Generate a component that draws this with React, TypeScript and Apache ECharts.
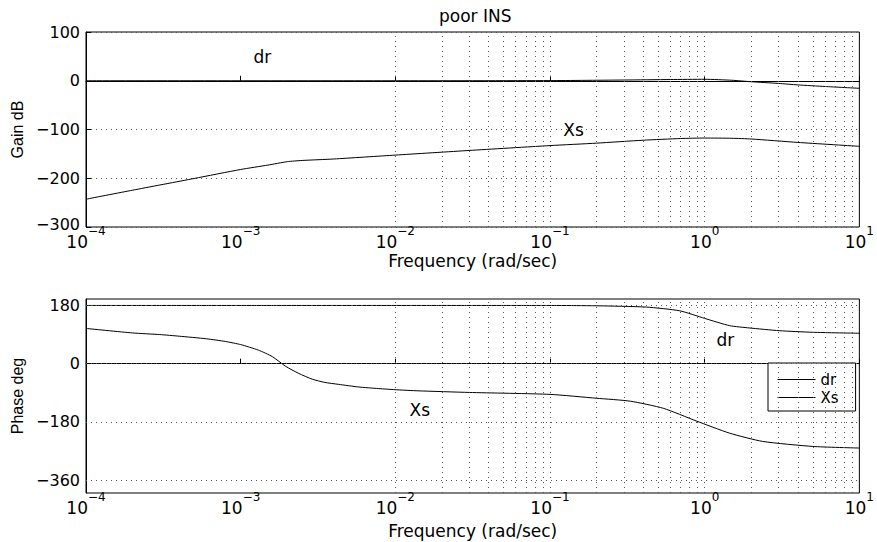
import React, { useEffect, useRef } from 'react';
import * as echarts from 'echarts';

// ---- data ----
const gainXsFreq = [1e-4, 2e-4, 5e-4, 1e-3, 1.5e-3, 2e-3, 2.5e-3, 4e-3, 1e-2, 3e-2, 1e-1, 0.2, 0.4, 0.7, 1, 1.5, 2, 4, 10];
const gainXs = [-243, -224.5, -200.5, -182, -173, -166, -163.5, -160.5, -152.5, -143, -133, -128, -122, -118.5, -117.5, -118, -119.5, -126.5, -134.5];

const gainDrFreq = [1e-4, 1e-2, 1e-1, 0.3, 0.6, 1, 1.5, 2, 3, 4, 6, 10];
const gainDr = [0, 0, 0.3, 1.5, 2.5, 3, 1, -2, -5.5, -8.5, -11.8, -15.5];

const phaseXsFreq = [1e-4, 2e-4, 3e-4, 4e-4, 6e-4, 8e-4, 1e-3, 1.3e-3, 1.6e-3, 1.95e-3, 2.37e-3, 2.9e-3, 3.5e-3, 4.3e-3, 5.75e-3, 7.75e-3, 1.04e-2, 1.4e-2, 3e-2, 1e-1, 0.2, 0.33, 0.54, 0.88, 1.45, 2.37, 5, 10];
const phaseXs = [109, 95, 90, 85, 77, 68.5, 59, 42, 22, -8, -30, -48, -58, -64, -72, -77, -81, -84, -89, -95, -107, -116, -138, -177, -215, -240.5, -256, -261];

const phaseDrFreq = [1e-4, 1e-1, 0.2, 0.42, 0.69, 1.0, 1.45, 1.94, 3.03, 5, 10];
const phaseDr = [180, 180, 179, 175, 163.5, 140, 117.5, 110.5, 102, 97, 94];

const gainTicks = [-300, -200, -100, 0, 100];
const phaseTicks = [-360, -180, 0, 180];

const topNotes = [
  { text: 'dr', f: 1.38e-3, v: 49 },
  { text: 'Xs', f: 0.142, v: -100 },
];
const bottomNotes = [
  { text: 'Xs', f: 0.0144, v: -143 },
  { text: 'dr', f: 1.36, v: 74.5 },
];

const FONT = 'DejaVu Sans';
const GRID_COLOR = '#555';
const DOT: number[] = [1, 4];

function pairs(xs: number[], ys: number[]) {
  return xs.map((x, i) => [x, ys[i]]);
}

function decadeLabel(v: number) {
  const e = Math.round(Math.log10(v));
  const s = e < 0 ? '\u2212' + String(-e) : String(e);
  return '{b|10}{s|' + s + '}';
}

function minorGrid() {
  const out: { xAxis: number }[] = [];
  for (let e = -4; e <= 0; e++) {
    for (let k = 1; k <= 9; k++) {
      if (e === -4 && k === 1) continue;
      out.push({ xAxis: k * Math.pow(10, e) });
    }
  }
  return out;
}

const rich = {
  b: { fontFamily: FONT, fontSize: 17, color: '#000', lineHeight: 17, padding: [9, 0, 0, 0] },
  s: { fontFamily: FONT, fontSize: 12, color: '#000', lineHeight: 12, padding: [0, 0, 14, 0] },
};

const yRich = {
  n: { fontFamily: FONT, fontSize: 16, color: '#000', lineHeight: 12 },
  m: { fontFamily: FONT, fontSize: 16, color: '#000', lineHeight: 12, padding: [0, 0, 6, 0] },
};

function xAxisCfg(gridIndex: number, nameGap: number) {
  return {
    gridIndex,
    type: 'log',
    logBase: 10,
    min: 1e-4,
    max: 10,
    axisLine: { show: true, lineStyle: { color: '#000', width: 1 } },
    axisTick: { show: true, inside: true, length: 5, lineStyle: { color: '#000' } },
    axisLabel: { formatter: decadeLabel, rich, margin: 2, color: '#000' },
    splitLine: { show: false },
    name: 'Frequency (rad/sec)',
    nameLocation: 'middle',
    nameGap,
    nameTextStyle: { fontFamily: FONT, fontSize: 17, color: '#000' },
  };
}

function noteMarks(notes: { text: string; f: number; v: number }[]) {
  return {
    silent: true,
    symbol: 'circle',
    symbolSize: 0,
    label: { show: true, position: 'inside', fontFamily: FONT, fontSize: 17, color: '#000', formatter: '{b}' },
    data: notes.map((n) => ({ name: n.text, coord: [n.f, n.v], value: n.v })),
  };
}

const gridLineStyle = { type: DOT, color: GRID_COLOR, width: 1 };

export default function App() {
  const ref = useRef<HTMLDivElement>(null);

  useEffect(() => {
    if (!ref.current) return;
    const chart = echarts.init(ref.current, null, { renderer: 'svg' });
    const minus = (v: number) => String(v).replace('-', '\u2212');

    const option: any = {
      animation: false,
      backgroundColor: '#fff',
      title: {
        text: 'poor INS',
        left: 434,
        top: 2,
        textStyle: { fontFamily: FONT, fontSize: 17, fontWeight: 'normal', color: '#000' },
      },
      legend: {
        data: ['dr', 'Xs'],
        orient: 'vertical',
        left: 768,
        top: 363,
        itemWidth: 38,
        itemHeight: 14,
        itemGap: 3,
        padding: [9, 17, 6, 9],
        backgroundColor: '#fff',
        borderColor: '#000',
        borderWidth: 1,
        borderRadius: 0,
        selectedMode: false,
        itemStyle: { opacity: 0 },
        lineStyle: { width: 1 },
        textStyle: { fontFamily: FONT, fontSize: 15, color: '#000', lineHeight: 15 },
      },
      grid: [
        { left: 86, top: 32, width: 778, height: 195, show: true, borderColor: '#000', borderWidth: 1, backgroundColor: '#fff' },
        { left: 86, top: 299, width: 778, height: 194, show: true, borderColor: '#000', borderWidth: 1, backgroundColor: '#fff' },
      ],
      xAxis: [xAxisCfg(0, 25), xAxisCfg(1, 29)],
      yAxis: [
        {
          gridIndex: 0,
          type: 'value',
          min: gainTicks[0],
          max: gainTicks[gainTicks.length - 1],
          interval: 100,
          axisLine: { show: true, lineStyle: { color: '#000' } },
          axisTick: { show: true, inside: true, length: 5, lineStyle: { color: '#000' } },
          axisLabel: {
            formatter: (v: number) => (v === gainTicks[0] ? '{m|' + minus(v) + '}' : '{n|' + minus(v) + '}'),
            rich: yRich,
            margin: 6,
          },
          splitLine: { show: true, lineStyle: gridLineStyle },
          name: 'Gain dB',
          nameLocation: 'middle',
          nameGap: 58,
          nameTextStyle: { fontFamily: 'Liberation Sans', fontSize: 16, color: '#000' },
        },
        {
          gridIndex: 1,
          type: 'value',
          min: -400,
          max: 200,
          interval: 20,
          axisLine: { show: true, lineStyle: { color: '#000' } },
          axisTick: { show: false },
          axisLabel: {
            formatter: (v: number) => (phaseTicks.indexOf(Math.round(v)) >= 0 ? minus(Math.round(v)) : ''),
            fontFamily: FONT,
            fontSize: 16,
            lineHeight: 12,
            color: '#000',
            margin: 6,
          },
          splitLine: { show: false },
          name: 'Phase deg',
          nameLocation: 'middle',
          nameGap: 58,
          nameTextStyle: { fontFamily: 'Liberation Sans', fontSize: 16, color: '#000' },
        },
      ],
      series: [
        {
          name: 'dr',
          type: 'line',
          xAxisIndex: 0,
          yAxisIndex: 0,
          data: pairs(gainDrFreq, gainDr),
          symbol: 'none',
          smooth: 0.2,
          color: '#000',
          lineStyle: { color: '#000', width: 1 },
          markLine: {
            silent: true,
            symbol: ['none', 'none'],
            label: { show: false },
            lineStyle: gridLineStyle,
            data: minorGrid(),
          },
          markPoint: noteMarks(topNotes),
        },
        {
          name: 'Xs',
          type: 'line',
          xAxisIndex: 0,
          yAxisIndex: 0,
          data: pairs(gainXsFreq, gainXs),
          symbol: 'none',
          smooth: 0.2,
          color: '#000',
          lineStyle: { color: '#000', width: 1 },
        },
        {
          name: 'dr',
          type: 'line',
          xAxisIndex: 1,
          yAxisIndex: 1,
          data: pairs(phaseDrFreq, phaseDr),
          symbol: 'none',
          smooth: 0.2,
          color: '#000',
          lineStyle: { color: '#000', width: 1 },
          markLine: {
            silent: true,
            symbol: ['none', 'none'],
            label: { show: false },
            lineStyle: gridLineStyle,
            data: [...minorGrid(), ...phaseTicks.map((t) => ({ yAxis: t }))],
          },
          markPoint: noteMarks(bottomNotes),
        },
        {
          name: 'Xs',
          type: 'line',
          xAxisIndex: 1,
          yAxisIndex: 1,
          data: pairs(phaseXsFreq, phaseXs),
          symbol: 'none',
          smooth: 0.2,
          color: '#000',
          lineStyle: { color: '#000', width: 1 },
        },
      ],
    };

    chart.setOption(option);
    return () => chart.dispose();
  }, []);

  return (
    <div
      ref={ref}
      style={{ position: 'absolute', left: 0, top: 0, width: 877, height: 542, background: '#fff' }}
    />
  );
}
